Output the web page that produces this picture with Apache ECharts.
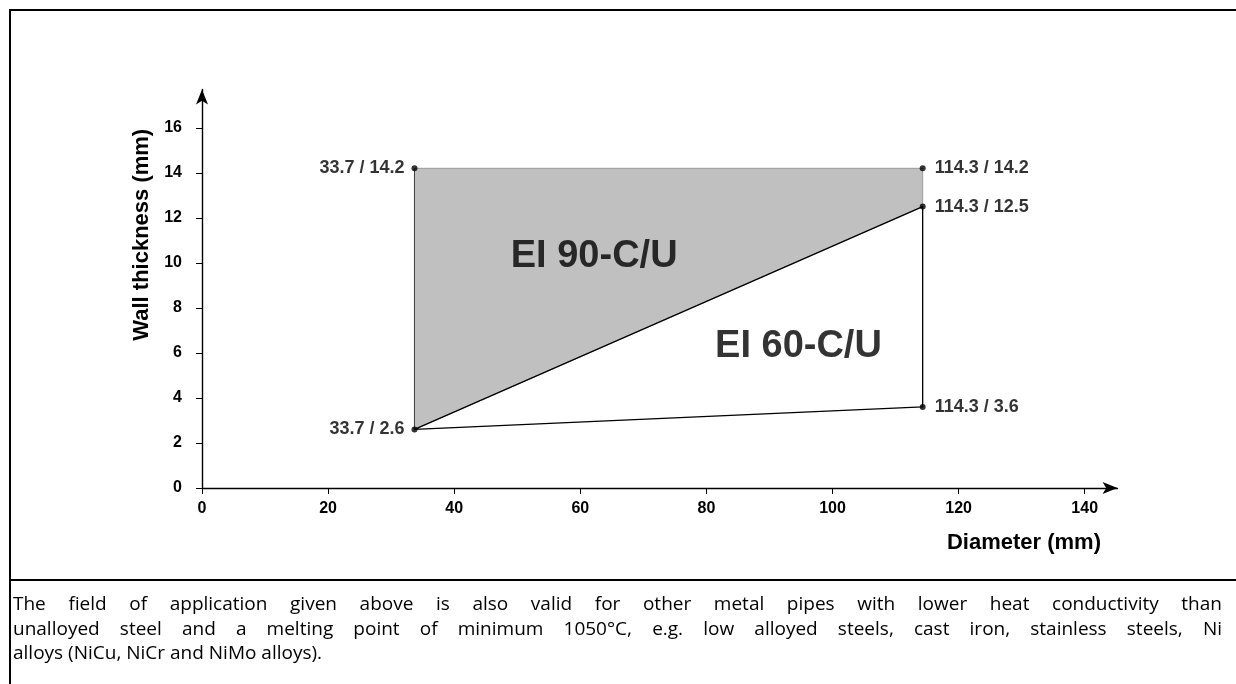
<!DOCTYPE html>
<html>
<head>
<meta charset="utf-8">
<script src="https://cdn.jsdelivr.net/npm/echarts@6/dist/echarts.min.js"></script>
<style>
  html, body { margin: 0; padding: 0; background: #fff; overflow: hidden; }
  #chart { position: absolute; left: 0; top: 0; width: 1236px; height: 684px; }
  #frame { position: absolute; left: 9px; top: 9px; width: 1250px; height: 700px;
           border: 2px solid #000; box-sizing: border-box; pointer-events: none; }
  #rule { position: absolute; left: 9px; top: 579px; width: 1240px; height: 2px; background: #000; }
  #caption { position: absolute; left: 13px; top: 591px; width: 1209px;
             font-family: "Open Sans", "Noto Sans", sans-serif; font-size: 19px;
             line-height: 24.5px; color: #000; }
  #caption .j { text-align: justify; text-align-last: justify; }
</style>
</head>
<body>
<div id="chart"></div>
<div id="frame"></div>
<div id="rule"></div>
<div id="caption">
  <div class="j">The field of application given above is also valid for other metal pipes with lower heat conductivity than</div>
  <div class="j">unalloyed steel and a melting point of minimum 1050°C, e.g. low alloyed steels, cast iron, stainless steels, Ni</div>
  <div>alloys (NiCu, NiCr and NiMo alloys).</div>
</div>
<script>
// axis ticks
const xTicks = [0, 20, 40, 60, 80, 100, 120, 140];
const yTicks = [0, 2, 4, 6, 8, 10, 12, 14, 16];

// corner points of the application field (diameter mm, wall thickness mm)
const cornerD = [33.7, 114.3, 114.3, 114.3, 33.7];
const cornerT = [14.2, 14.2, 12.5, 3.6, 2.6];
const cornerSide = ['left', 'right', 'right', 'right', 'left'];

// EI 90 region (grey) and EI 60 outline, as indexes into the corners
const ei90Idx = [0, 1, 2, 4];
const ei60Idx = [4, 2, 3, 4];

const regionNames = ['EI 90-C/U', 'EI 60-C/U'];
const regionLabelD = [62.2, 94.6];
const regionLabelT = [10.3, 6.3];

const pt = i => [cornerD[i], cornerT[i]];
const font = 'Liberation Sans, Arial, Helvetica, sans-serif';

const chart = echarts.init(document.getElementById('chart'));
chart.setOption({
  animation: false,
  textStyle: { color: '#000', fontFamily: font },
  grid: { left: 202, right: 118.5, top: 89.5, bottom: 196 },
  xAxis: {
    type: 'value', min: 0, max: 145.2, interval: 20,
    name: 'Diameter (mm)', nameLocation: 'end', nameGap: -16.5,
    nameTextStyle: { fontFamily: font, fontWeight: 'bold', fontSize: 22, color: '#000',
                     align: 'right', verticalAlign: 'top', padding: [44, 0, 0, 0] },
    axisLine: { lineStyle: { color: '#000', width: 1.4 }, symbol: ['none', 'arrow'], symbolSize: [9, 15] },
    axisTick: { show: true, length: 6, customValues: xTicks, lineStyle: { color: '#000', width: 1 } },
    axisLabel: { customValues: xTicks, margin: 13, fontFamily: font, fontWeight: 'bold', fontSize: 16, color: '#000' },
    splitLine: { show: false }
  },
  yAxis: {
    type: 'value', min: 0, max: 17.7, interval: 2,
    name: 'Wall thickness (mm)', nameLocation: 'middle', nameGap: 47,
    nameTextStyle: { fontFamily: font, fontWeight: 'bold', fontSize: 22, color: '#000',
                     padding: [0, 0, 0, 108] },
    axisLine: { lineStyle: { color: '#000', width: 1.4 }, symbol: ['none', 'arrow'], symbolSize: [9, 15] },
    axisTick: { show: true, length: 6, customValues: yTicks, lineStyle: { color: '#000', width: 1 } },
    axisLabel: { customValues: yTicks, margin: 20, fontFamily: font, fontWeight: 'bold', fontSize: 16, color: '#000' },
    splitLine: { show: false }
  },
  series: [
    {
      type: 'custom',
      silent: true,
      data: [0],
      renderItem: function (params, api) {
        return {
          type: 'polygon',
          shape: { points: ei90Idx.map(i => api.coord(pt(i))) },
          style: { fill: '#c0c0c0', stroke: '#8a8a8a', lineWidth: 0.8 }
        };
      },
      z: 1
    },
    {
      type: 'line',
      data: [pt(4), pt(0)],
      symbol: 'none',
      lineStyle: { color: '#444', width: 1 },
      z: 2
    },
    {
      type: 'line',
      data: ei60Idx.map(pt),
      symbol: 'none',
      lineStyle: { color: '#000', width: 1.3 },
      z: 3
    },
    {
      type: 'scatter',
      symbol: 'circle',
      symbolSize: 6,
      itemStyle: { color: '#000' },
      data: cornerD.map((d, i) => ({
        value: pt(i),
        label: { position: cornerSide[i], distance: cornerSide[i] === 'left' ? 7 : 9 }
      })),
      label: {
        show: true,
        formatter: p => p.value[0] + ' / ' + p.value[1],
        fontFamily: font, fontWeight: 'bold', fontSize: 18, color: '#000'
      },
      z: 4
    },
    {
      type: 'scatter',
      symbolSize: 0,
      silent: true,
      data: regionNames.map((n, i) => ({ name: n, value: [regionLabelD[i], regionLabelT[i]] })),
      label: {
        show: true, position: 'inside', formatter: p => p.name,
        fontFamily: font, fontWeight: 'bold', fontSize: 38, color: '#000'
      },
      z: 5
    }
  ]
});
</script>
</body>
</html>
